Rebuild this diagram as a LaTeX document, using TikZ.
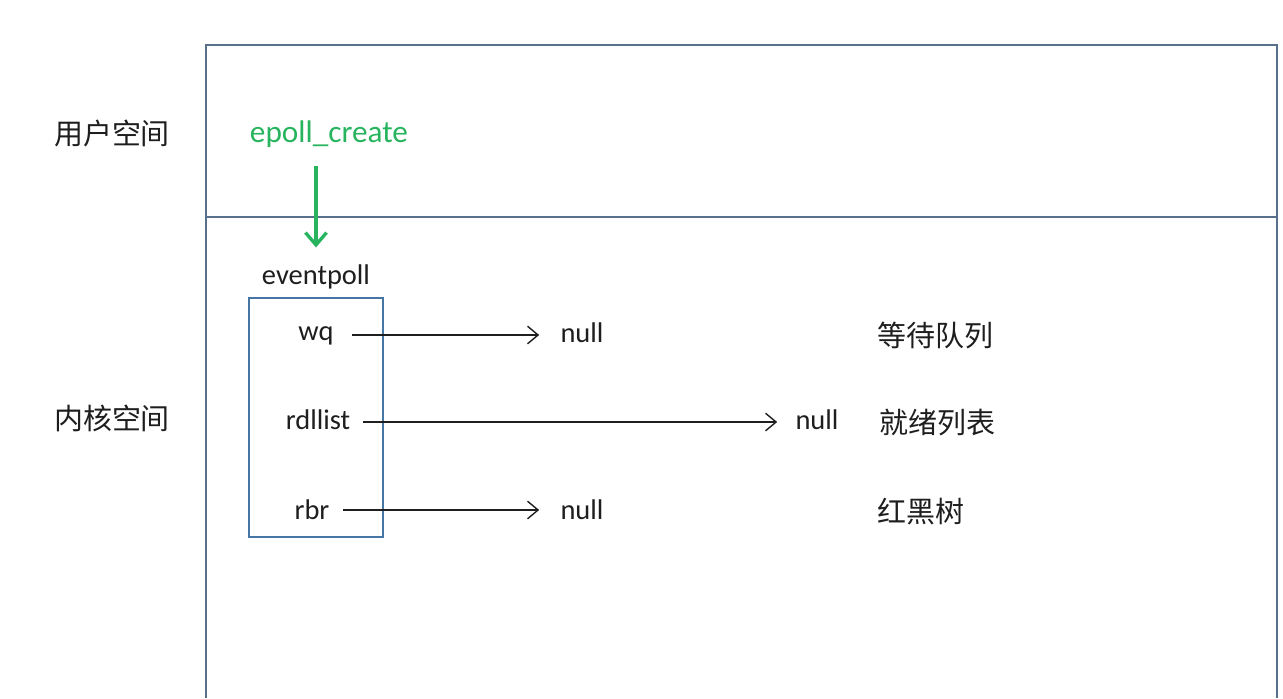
\documentclass[tikz,border=0pt]{standalone}
\usepackage{fontspec}
\setmainfont{Carlito}
\newfontfamily\cjk{Noto Sans CJK SC}
\usetikzlibrary{arrows.meta}
\definecolor{framecol}{RGB}{88,112,140}
\definecolor{boxcol}{RGB}{70,118,165}
\definecolor{epgreen}{RGB}{40,180,95}
\definecolor{txtcol}{RGB}{30,30,30}
\begin{document}
\begin{tikzpicture}[x=0.02cm, y=-0.02cm,
    lbl/.style = {text=txtcol, inner sep=0pt, font=\fontsize{16.2pt}{19pt}\selectfont},
    cn/.style = {text=txtcol, inner sep=0pt, font=\cjk\fontsize{16.5pt}{19pt}\selectfont},
    ptr/.style = {-{Straight Barb[length=6pt, width=10pt]}, line width=0.8pt, draw=txtcol},
    call/.style = {-{Straight Barb[length=7pt, width=12pt]}, line width=1.9pt, draw=epgreen}]
        \useasboundingbox (0,0) rectangle (1283,698);
        % frame
        \draw[framecol, line width=1.2pt] (206,698) -- (206,45) -- (1277,45) -- (1277,698);
        \draw[framecol, line width=1.2pt] (206,217) -- (1277,217);
        \node[cn] (user) at (112,133) {用户空间};
        \node[cn] (kernel) at (112,418) {内核空间};
        % epoll_create
        \node[lbl, text=epgreen, font=\fontsize{17.8pt}{21pt}\selectfont] (ec) at (329,134) {epoll\_create};
        \node[lbl] (ep) at (316,277) {eventpoll};
        \draw[call, shorten <=0.36cm, shorten >=0.34cm] (ec.south -| ep.north) -- (ep.north);
        \draw[boxcol, line width=0.9pt] (249,298) rectangle (383,537);
        % fields
        \node[lbl] (wq) at (316,336) {wq};
        \node[lbl] (rdl) at (318,420) {rdllist};
        \node[lbl] (rbr) at (312,510) {rbr};
        \node[lbl] (n1) at (582,333) {null};
        \node[lbl] (n2) at (817,420) {null};
        \node[lbl] (n3) at (582,510) {null};
        \draw[ptr, shorten <=0.36cm, shorten >=0.42cm] (wq.east |- 0,335) -- (n1.west |- 0,335);
        \draw[ptr, shorten <=0.24cm, shorten >=0.36cm] (rdl.east |- 0,422) -- (n2.west |- 0,422);
        \draw[ptr, shorten <=0.26cm, shorten >=0.42cm] (rbr.east) -- (n3.west);
        \node[cn] (wqn) at (935,335) {等待队列};
        \node[cn] (rdn) at (937,423) {就绪列表};
        \node[cn] (rbn) at (921,512) {红黑树};
\end{tikzpicture}
\end{document}
